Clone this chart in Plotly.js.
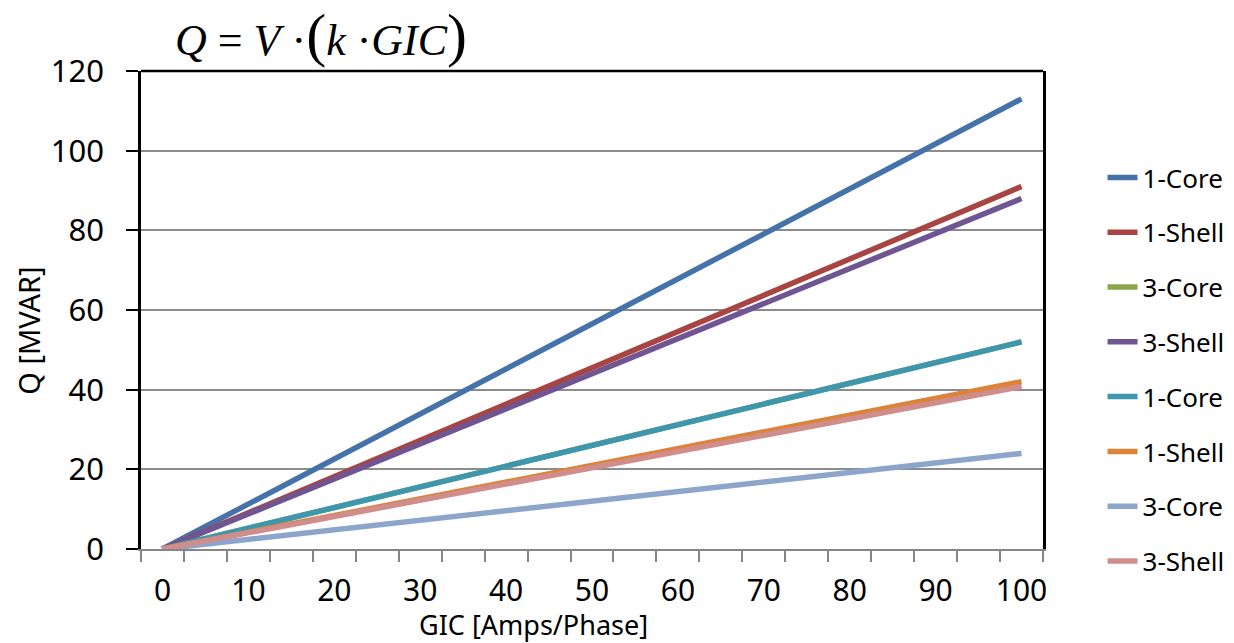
<!DOCTYPE html>
<html>
<head>
<meta charset="utf-8">
<script src="https://cdn.plot.ly/plotly-3.0.1.min.js"></script>
<style>html,body{margin:0;padding:0;background:#fff;}#chart{width:1234px;height:643px;}</style>
</head>
<body>
<div id="chart"></div>
<script>
// GIC [Amps/Phase]
var gic = [0, 10, 20, 30, 40, 50, 60, 70, 80, 90, 100];
var tickLabels = ['0','10','20','30','40','50','60','70','80','90','100'];
var seriesNames = ['1-Core', '1-Shell', '3-Core', '3-Shell', '1-Core', '1-Shell', '3-Core', '3-Shell'];
// Q [MVAR]
var q1CoreA  = [0, 11.3, 22.6, 33.9, 45.2, 56.5, 67.8, 79.1, 90.4, 101.7, 113];
var q1ShellA = [0, 9.1, 18.2, 27.3, 36.4, 45.5, 54.6, 63.7, 72.8, 81.9, 91];
var q3CoreA  = [0, 5.2, 10.4, 15.6, 20.8, 26, 31.2, 36.4, 41.6, 46.8, 52];
var q3ShellA = [0, 8.8, 17.6, 26.4, 35.2, 44, 52.8, 61.6, 70.4, 79.2, 88];
var q1CoreB  = [0, 5.2, 10.4, 15.6, 20.8, 26, 31.2, 36.4, 41.6, 46.8, 52];
var q1ShellB = [0, 4.2, 8.4, 12.6, 16.8, 21, 25.2, 29.4, 33.6, 37.8, 42];
var q3CoreB  = [0, 2.4, 4.8, 7.2, 9.6, 12, 14.4, 16.8, 19.2, 21.6, 24];
var q3ShellB = [0, 4.08, 8.16, 12.24, 16.32, 20.4, 24.48, 28.56, 32.64, 36.72, 40.8];
var seriesValues = [q1CoreA, q1ShellA, q3CoreA, q3ShellA, q1CoreB, q1ShellB, q3CoreB, q3ShellB];
var colors = ['#4672AA', '#A84441', '#8AA84B', '#6F5591', '#3F97AD', '#DC8338', '#8EA5CB', '#CF8D8B'];
var yTicks = [0, 20, 40, 60, 80, 100, 120];

var minorX = [];
for (var i = 0; i <= gic.length * 2 - 1; i++) { minorX.push(-2.5 + 5 * i); }

var traces = seriesNames.map(function (name, i) {
  return {
    x: gic, y: seriesValues[i], name: name, type: 'scatter', mode: 'lines',
    legendgroup: 'g' + i,
    line: {color: colors[i], width: 5.5}
  };
});

var font = '"Noto Sans", "Open Sans", sans-serif';
var layout = {
  width: 1234, height: 643,
  margin: {l: 141, r: 191, t: 71, b: 94, autoexpand: false},
  paper_bgcolor: '#fff', plot_bgcolor: '#fff',
  showlegend: true,
  legend: {
    x: 1.066, xanchor: 'left', y: 0.3755, yanchor: 'middle',
    font: {family: font, size: 26, color: '#000'},
    tracegroupgap: 18, bgcolor: 'rgba(0,0,0,0)'
  },
  xaxis: {
    range: [-2.5, 102.5], tickmode: 'array', tickvals: gic, ticktext: tickLabels,
    ticks: '', showgrid: false, zeroline: false,
    showline: true, linecolor: '#868686', linewidth: 2,
    tickfont: {family: font, size: 30, color: '#000'},
    ticklabelstandoff: 14,
    minor: {tickmode: 'array', tickvals: minorX, ticks: 'outside', ticklen: 11, tickcolor: '#868686', tickwidth: 2, showgrid: false}
  },
  yaxis: {
    range: [0, 120], tickmode: 'array', tickvals: yTicks,
    ticks: 'outside', ticklen: 12, tickcolor: '#000', tickwidth: 2,
    showgrid: true, gridcolor: '#8c8c8c', gridwidth: 2,
    zeroline: false, showline: true, linecolor: '#000', linewidth: 2.5, mirror: true,
    tickfont: {family: font, size: 31, color: '#000'},
    ticklabelstandoff: 16
  },
  shapes: [
    {type: 'line', xref: 'paper', yref: 'paper', x0: 0, x1: 1, y0: 1, y1: 1, line: {color: '#000', width: 2.5}}
  ],
  annotations: [
    {xref: 'paper', yref: 'paper', x: 0.435, y: -0.158, xanchor: 'center', yanchor: 'middle', showarrow: false,
     text: 'GIC [Amps/Phase]', font: {family: font, size: 27, color: '#000'}},
    {xref: 'paper', yref: 'paper', x: -0.125, y: 0.457, xanchor: 'center', yanchor: 'middle', showarrow: false, textangle: -90,
     text: 'Q [MVAR]', font: {family: font, size: 29, color: '#000'}},
    {xref: 'paper', yref: 'paper', x: 0.036, y: 1.075, xanchor: 'left', yanchor: 'middle', showarrow: false,
     text: '<i>Q</i> = <i>V</i> ·<span style="font-size:60px">(</span><i>k</i> ·<i>GIC</i><span style="font-size:60px">)</span>',
     font: {family: '"Liberation Serif", "DejaVu Serif", serif', size: 44, color: '#000'}}
  ]
};

Plotly.newPlot('chart', traces, layout, {displayModeBar: false});
</script>
</body>
</html>
